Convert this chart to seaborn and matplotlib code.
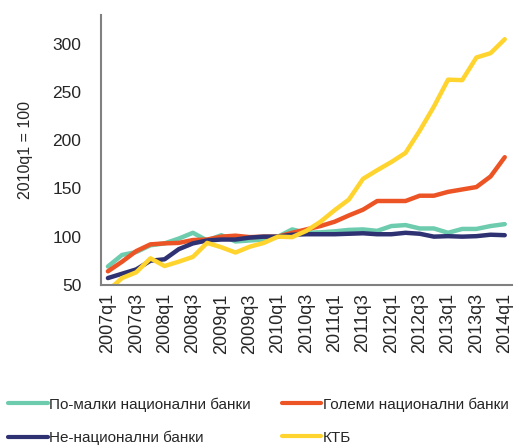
import matplotlib
matplotlib.use("Agg")
import matplotlib.pyplot as plt
import numpy as np
import pandas as pd
import seaborn as sns

# quarters 2007q1 .. 2014q1
quarters = [f"{y}q{q}" for y in range(2007, 2015) for q in range(1, 5)][:29]

smaller_national = [69, 81, 84, 91, 93, 98, 104, 96, 101.5, 95, 96, 97, 100,
                    107.5, 104, 104.5, 105.5, 107, 107.5, 106, 111, 112, 108.5,
                    108.5, 104, 108, 108, 111, 113]
large_national = [64, 74, 85, 92, 93, 93.5, 96.5, 97, 100, 101, 99.5, 100, 100,
                  104, 107.5, 111, 115.5, 122, 128, 137, 137, 137, 142.5, 142.5,
                  146.5, 149, 151.5, 162.5, 182.5]
non_national = [57, 61.5, 66, 75, 76.5, 87, 93, 96, 97, 97, 99, 100, 100, 102,
                102.5, 102.5, 102.5, 103, 103.5, 102.5, 102.5, 104, 103, 100,
                100.5, 100, 100.5, 102, 101.5]
ktb = [44, 57, 63, 77.5, 69.5, 74, 79, 93.5, 89, 83.5, 89.5, 93.5, 100,
       99.5, 106, 115.5, 127.5, 138.5, 160, 169, 177.5, 187, 210, 235, 263,
       262.5, 286, 290.5, 305]

series_names = ["По-малки национални банки", "Големи национални банки",
                "Не-национални банки", "КТБ"]
colors = ["#6DCBAE", "#EC5425", "#2F3272", "#FFD42E"]

df = pd.DataFrame({
    "x": list(range(len(quarters))) * 4,
    "value": smaller_national + large_national + non_national + ktb,
    "series": np.repeat(series_names, len(quarters)),
})

sns.set_style("white")
plt.rcParams["font.family"] = ["Liberation Sans", "DejaVu Sans"]

fig = plt.figure(figsize=(5.17, 4.45), dpi=100)
ax = fig.add_axes([0.195, 0.36, 0.795, 0.606])

sns.lineplot(data=df, x="x", y="value", hue="series", hue_order=series_names,
             palette=colors, linewidth=3.2, ax=ax, legend=False)

ax.set_xlim(-0.5, 28.5)
ax.set_ylim(50, 330)
ax.set_yticks([50, 100, 150, 200, 250, 300])
ax.set_xticks(range(0, len(quarters), 2))
ax.set_xticklabels(quarters[::2], rotation=90, fontsize=13)
ax.tick_params(axis="y", labelsize=12.5, length=0, pad=14)
ax.tick_params(axis="x", length=0, pad=6)
ax.set_xlabel("")
ax.set_ylabel("2010q1 = 100", fontsize=11.5, labelpad=14)

for side in ["top", "right"]:
    ax.spines[side].set_visible(False)
for side in ["left", "bottom"]:
    ax.spines[side].set_color("#808080")
    ax.spines[side].set_linewidth(1.5)

# row-wise legend order
order = [0, 2, 1, 3]
handles = [plt.Line2D([], [], color=colors[i], linewidth=3) for i in order]
labels = [series_names[i] for i in order]
fig.legend(handles, labels, loc="lower left", bbox_to_anchor=(0.004, -0.014),
           ncol=2, frameon=False, fontsize=11, handlelength=2.6,
           handletextpad=0.1, columnspacing=2.0, labelspacing=1.25,
           borderpad=0.2, borderaxespad=0.2)

fig.savefig("out.png", dpi=100)
